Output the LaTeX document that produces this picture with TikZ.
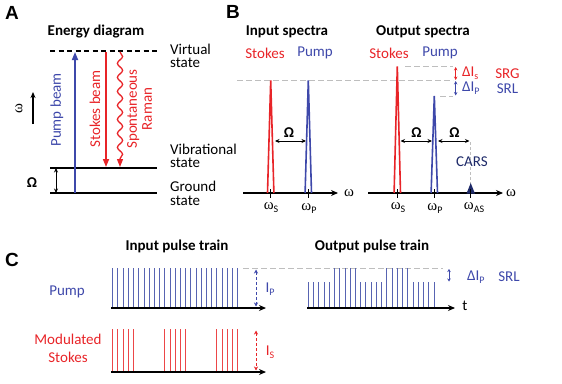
\documentclass[tikz,border=0pt]{standalone}
\usepackage{fontspec}
\setmainfont{Carlito}
\newfontfamily\letterfont{Liberation Sans}
\newfontfamily\omegafont{Liberation Serif}
\usetikzlibrary{arrows.meta,decorations.pathmorphing}
\definecolor{sred}{RGB}{232,36,40}
\definecolor{pblue}{RGB}{62,72,170}
\definecolor{lblue}{RGB}{88,100,178}
\definecolor{lred}{RGB}{236,70,72}
\definecolor{navy}{RGB}{30,42,105}
\definecolor{lgray}{RGB}{190,190,190}
\newcommand{\om}{{\omegafont ω}}
\tikzset{
  txt/.style={font=\fontsize{15}{13.5}\selectfont, inner sep=0pt},
  ttl/.style={font=\fontsize{15}{15}\selectfont\bfseries, inner sep=0pt},
  panel/.style={font=\fontsize{19}{19}\selectfont\letterfont\bfseries, inner sep=0pt},
  level/.style={line width=1.5pt, black},
  axisline/.style={line width=1.5pt, black, -{Stealth[length=7pt,width=6pt]}},
  dimarrow/.style={line width=0.7pt, black, {Stealth[length=4.5pt,width=4pt]}-{Stealth[length=4.5pt,width=4pt]}},
  beam/.style={line width=1.6pt, -{Triangle[length=8pt,width=6pt]}},
  gdash/.style={lgray, line width=0.9pt, dash pattern=on 6pt off 3pt},
  peak/.style={line width=1.6pt, line join=miter},
  tick/.style={line width=1.3pt, black},
  pulse/.style={line width=0.9pt},
}
\begin{document}
\begin{tikzpicture}[x=1pt,y=-1pt]
\useasboundingbox (0,0) rectangle (562,383);

% ---------------- Panel A ----------------
\node[panel] (lA) at (12,13) {A};
\node[ttl] (tA) at (96,32) {Energy diagram};
\coordinate (vL) at (50,51); \coordinate (vR) at (157,51);
\coordinate (bL) at (50,168); \coordinate (bR) at (157,168);
\coordinate (gL) at (50,193); \coordinate (gR) at (157,193);
\draw[black, line width=1.4pt, dash pattern=on 5pt off 3.5pt] (vL) -- (vR);
\draw[level] (bL) -- (bR);
\draw[level] (gL) -- (gR);
\coordinate (pb0) at (75,193); \coordinate (pb1) at (75,52);
\draw[beam, pblue] (pb0) -- (pb1);
\coordinate (sb0) at (106,52); \coordinate (sb1) at (106,167);
\draw[beam, sred] (sb0) -- (sb1);
\coordinate (rm0) at (120,52); \coordinate (rm1) at (120,167);
\draw[sred, line width=1.3pt, -{Triangle[length=8pt,width=6pt]},
  decorate, decoration={snake, amplitude=2.6pt, segment length=14pt, post length=7pt}] (rm0) -- (rm1);
\node[txt, rotate=90, text=pblue] (tpb) at (57,110) {Pump beam};
\node[txt, rotate=90, text=sred] (tsb) at (95,109) {Stokes beam};
\node[txt, rotate=90, text=sred, align=center, font=\fontsize{15}{15}\selectfont] (trm) at (139.5,109) {Spontaneous\\Raman};
\coordinate (om0) at (56,168); \coordinate (om1) at (56,193);
\draw[dimarrow] (om0) -- (om1);
\node[ttl] (tOmA) at (32,183) {Ω};
\coordinate (wa0) at (33,124); \coordinate (wa1) at (33,92);
\draw[line width=1.2pt, -{Stealth[length=6pt,width=5pt]}] (wa0) -- (wa1);
\node[txt, rotate=90] (twA) at (19,109) {\om};
\node[txt, anchor=west, align=left] (tvirt) at (170,56) {Virtual\\state};
\node[txt, anchor=west, align=left] (tvib) at (170,156) {Vibrational\\state};
\node[txt, anchor=north west, align=left] (tgr) at (170,181) {Ground\\state};

% ---------------- Panel B ----------------
\node[panel] (lB) at (233,12) {B};
\node[ttl] (tin) at (287,32) {Input spectra};
\node[ttl] (tout) at (423,32) {Output spectra};
\node[txt, text=sred] (tsi) at (265,53) {Stokes};
\node[txt, text=pblue] (tpi) at (315,53) {Pump};
\node[txt, text=sred] (tso) at (389,53) {Stokes};
\node[txt, text=pblue] (tpo) at (440,53) {Pump};

% gray reference lines
\coordinate (gd0) at (237,80.5); \coordinate (gd1) at (453,80.5);
\draw[gdash] (gd0) -- (gd1);
\coordinate (gs0) at (405,66.5); \coordinate (gs1) at (453,66.5);
\draw[gdash] (gs0) -- (gs1);
\coordinate (gp0) at (440,96); \coordinate (gp1) at (453,96);
\draw[gdash] (gp0) -- (gp1);

% input axis
\coordinate (ai0) at (243,193); \coordinate (ai1) at (338,193);
\draw[axisline] (ai0) -- (ai1);
\node[txt] (twi) at (349,193) {\om};
\draw[peak, sred] (267.5,193) -- (270.7,80.5) -- (273.9,193);
\draw[peak, pblue] (305.1,193) -- (308.3,80.5) -- (311.5,193);
\draw[tick] (270.7,189) -- (270.7,198);
\draw[tick] (308.3,189) -- (308.3,198);
\coordinate (oi0) at (275,141); \coordinate (oi1) at (306,141);
\draw[dimarrow] (oi0) -- (oi1);
\node[ttl] (tOmB) at (289,133) {Ω};
\node[txt] (wsi) at (271,208) {\om\raisebox{-3pt}{\fontsize{10}{10}\selectfont S}};
\node[txt] (wpi) at (309,208) {\om\raisebox{-3pt}{\fontsize{10}{10}\selectfont P}};

% output axis
\coordinate (ao0) at (368,193); \coordinate (ao1) at (503,193);
\draw[axisline] (ao0) -- (ao1);
\node[txt] (two) at (511,193) {\om};
\draw[peak, sred] (394.1,193) -- (397.3,66.5) -- (400.5,193);
\draw[peak, pblue] (431.1,193) -- (434.3,96) -- (437.5,193);
\coordinate (cv0) at (470.7,142); \coordinate (cv1) at (470.7,184);
\draw[lgray, line width=0.8pt, dash pattern=on 3pt off 2pt] (cv0) -- (cv1);
\fill[navy] (466.5,193.5) -- (469.5,186) -- (470.7,183) -- (471.9,186) -- (474.9,193.5) -- cycle;
\draw[tick] (397.3,189) -- (397.3,198);
\draw[tick] (434.3,189) -- (434.3,198);
\draw[tick] (470.7,189) -- (470.7,198);
\coordinate (oo0) at (400.5,141); \coordinate (oo1) at (432,141);
\draw[dimarrow] (oo0) -- (oo1);
\node[ttl] (tOmO1) at (416.5,133) {Ω};
\coordinate (op0) at (438,141); \coordinate (op1) at (469.5,141);
\draw[dimarrow] (op0) -- (op1);
\node[ttl] (tOmO2) at (454.5,133) {Ω};
\node[txt, text=navy] (tcars) at (472,162) {CARS};
\node[txt] (wso) at (398,208) {\om\raisebox{-3pt}{\fontsize{10}{10}\selectfont S}};
\node[txt] (wpo) at (435,208) {\om\raisebox{-3pt}{\fontsize{10}{10}\selectfont P}};
\node[txt] (wao) at (474,208) {\om\raisebox{-3pt}{\fontsize{10}{10}\selectfont AS}};

% Delta I
\coordinate (ds0) at (455.7,67); \coordinate (ds1) at (455.7,80);
\draw[sred, line width=0.9pt, {Stealth[length=3.5pt,width=3.5pt]}-{Stealth[length=3.5pt,width=3.5pt]}] (ds0) -- (ds1);
\coordinate (dp0) at (455.7,81); \coordinate (dp1) at (455.7,95.5);
\draw[pblue, line width=0.9pt, {Stealth[length=3.5pt,width=3.5pt]}-{Stealth[length=3.5pt,width=3.5pt]}] (dp0) -- (dp1);
\node[txt, text=sred, anchor=west] (tdis) at (462,73.5) {ΔI\raisebox{-3pt}{\fontsize{10}{10}\selectfont s}};
\node[txt, text=sred] (tsrg) at (507.5,73.5) {SRG};
\node[txt, text=pblue, anchor=west] (tdip) at (462,88.5) {ΔI\raisebox{-3pt}{\fontsize{10}{10}\selectfont P}};
\node[txt, text=pblue] (tsrl) at (507.5,88.5) {SRL};

% ---------------- Panel C ----------------
\node[panel] (lC) at (12,260) {C};
\node[ttl] (tinp) at (177,246) {Input pulse train};
\node[ttl] (toutp) at (372,246) {Output pulse train};
\node[txt, text=pblue] (tpump) at (67,292) {Pump};
\node[txt, text=sred, align=center, font=\fontsize{15}{18}\selectfont] (tmod) at (68,348) {Modulated\\Stokes};

\coordinate (gc0) at (243,268); \coordinate (gc1) at (443,268);
\draw[gdash] (gc0) -- (gc1);

% pump input
\foreach \i in {0,...,24} \draw[pulse, lblue] ({112.7+\i*5.21},308) -- ++(0,-40);
\coordinate (cp0) at (111,308); \coordinate (cp1) at (266,308);
\draw[axisline] (cp0) -- (cp1);
\coordinate (ip0) at (256,269.5); \coordinate (ip1) at (256,306.5);
\draw[pblue, line width=0.8pt, dash pattern=on 3pt off 2pt, {Stealth[length=4pt,width=4pt]}-{Stealth[length=4pt,width=4pt]}] (ip0) -- (ip1);
\node[txt, text=pblue] (tip) at (270,289) {I\raisebox{-3pt}{\fontsize{10}{10}\selectfont P}};

% stokes input
\foreach \g in {0,10,20} \foreach \k in {0,...,4} \draw[pulse, lred] ({112.7+(\g+\k)*5.21},372) -- ++(0,-43);
\coordinate (cs0) at (111,372); \coordinate (cs1) at (266,372);
\draw[axisline] (cs0) -- (cs1);
\coordinate (is0) at (256,330.5); \coordinate (is1) at (256,370.5);
\draw[sred, line width=0.8pt, dash pattern=on 3pt off 2pt, {Stealth[length=4pt,width=4pt]}-{Stealth[length=4pt,width=4pt]}] (is0) -- (is1);
\node[txt, text=sred] (tis) at (270,352) {I\raisebox{-3pt}{\fontsize{10}{10}\selectfont S}};

% output
\foreach \g/\h in {0/26,5/40,10/26,15/40,20/26} \foreach \k in {0,...,4} \draw[pulse, lblue] ({308.3+(\g+\k)*5.24},308) -- ++(0,-\h);
\coordinate (co0) at (307,308); \coordinate (co1) at (455,308);
\draw[axisline] (co0) -- (co1);
\node[txt] (tt) at (465,306) {t};
\coordinate (do0) at (449,269); \coordinate (do1) at (449,281.5);
\draw[pblue, line width=0.8pt, {Stealth[length=3pt,width=3.5pt]}-{Stealth[length=3pt,width=3.5pt]}] (do0) -- (do1);
\node[txt, text=pblue, anchor=west] (tdo) at (467,277) {ΔI\raisebox{-3pt}{\fontsize{10}{10}\selectfont P}};
\node[txt, text=pblue] (tsrl2) at (509,277) {SRL};
\end{tikzpicture}
\end{document}
